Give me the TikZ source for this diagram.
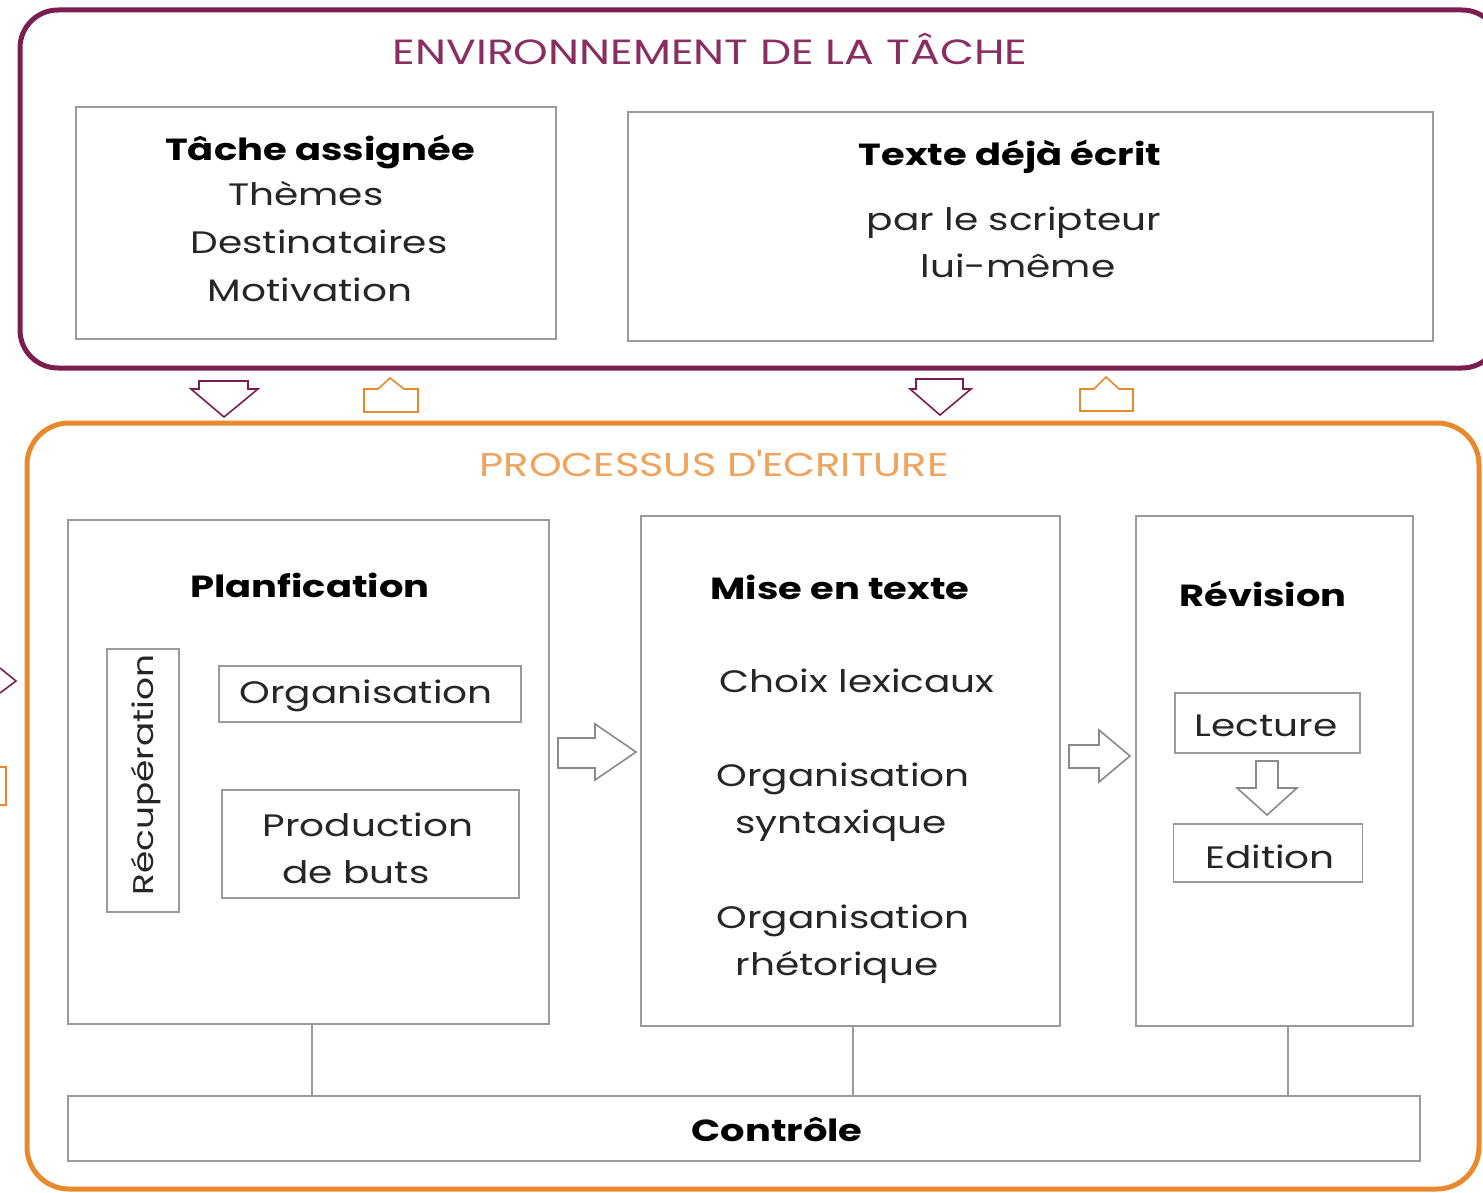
\documentclass[tikz,border=0pt]{standalone}
\usepackage{fontspec}
\setmainfont[FakeStretch=1.26]{Poppins}
\definecolor{envpurple}{HTML}{7A1E4F}
\definecolor{envtext}{HTML}{8A2E62}
\definecolor{procorange}{HTML}{E8892E}
\definecolor{proctext}{HTML}{F0A35A}
\definecolor{boxgray}{HTML}{9A9A9A}
\definecolor{txtcol}{HTML}{262626}
\definecolor{arrgray}{HTML}{8A8A8A}
\begin{document}
\begin{tikzpicture}[x=1pt,y=-1pt,
  box/.style={draw=boxgray, line width=1.8pt, inner sep=0pt},
  txt/.style={font=\fontsize{31}{36}\selectfont, text=txtcol, inner sep=0pt, anchor=base},
  ttl/.style={font=\fontsize{30.5}{36}\selectfont\bfseries, text=black, inner sep=0pt, anchor=base},
  head/.style={font=\fontsize{35}{40}\selectfont, inner sep=0pt, anchor=base},
  blockarrow/.style={draw=arrgray, line width=1.6pt, line join=miter, fill=white},
  link/.style={draw=boxgray, line width=1.8pt}
]
\useasboundingbox (0,0) rectangle (1483,1193);
\clip (0,0) rectangle (1483,1193);
\fill[white] (0,0) rectangle (1483,1193);

% outer frames
\draw[envpurple, line width=5pt, rounded corners=38pt] (20,10) rectangle (1500,368);
\draw[procorange, line width=5pt, rounded corners=42pt] (27,423) rectangle (1479,1189);

\node[head, text=envtext] (envtitle) at (710,65) {ENVIRONNEMENT DE LA TÂCHE};
\node[head, text=proctext, font=\fontsize{33}{38}\selectfont] (proctitle) at (714,476) {PROCESSUS D\textquotesingle ECRITURE};

% environment boxes
\node[box, minimum width=480pt, minimum height=232pt] (tache) at (316,223) {};
\node[ttl] (tachet) at (320,161) {Tâche assignée};
\node[txt] (themes) at (306,206) {Thèmes};
\node[txt] (dest) at (319,254) {Destinataires};
\node[txt] (motiv) at (310,301) {Motivation};

\node[box, minimum width=805pt, minimum height=229pt] (texte) at (1030.5,226.5) {};
\node[ttl] (textet) at (1010,166) {Texte déjà écrit};
\node[txt] (parle) at (1014,230) {par le scripteur};
\node[txt] (luimeme) at (1018,277) {lui-même};

% arrows between frames
\path[draw=envpurple, line width=1.6pt, fill=white]
  (199,389) -- (199,381) -- (248,381) -- (248,389) -- (258,389) -- (224,417) -- (191,389) -- cycle;
\path[draw=procorange, line width=1.6pt, fill=white]
  (364,389) -- (378,389) -- (390,378) -- (404,389) -- (418,389) -- (418,412) -- (364,412) -- cycle;
\path[draw=envpurple, line width=1.6pt, fill=white]
  (916,389) -- (916,379) -- (963,379) -- (963,389) -- (971,389) -- (940,415) -- (910,389) -- cycle;
\path[draw=procorange, line width=1.6pt, fill=white]
  (1080,389) -- (1094,389) -- (1106,377) -- (1119,389) -- (1133,389) -- (1133,411) -- (1080,411) -- cycle;

% partial shapes at the left edge
\draw[envpurple, line width=1.6pt] (0,668) -- (16,681) -- (0,693);
\draw[procorange, line width=1.6pt] (0,767) -- (6,767) -- (6,805) -- (0,805);

% Planification
\node[box, minimum width=481pt, minimum height=504pt] (plan) at (308.5,772) {};
\node[ttl] (plant) at (310,597) {Planfication};
\node[box, minimum width=72pt, minimum height=263pt] (recup) at (143,780.5) {};
\node[txt, rotate=90, font=\fontsize{28.5}{34}\selectfont] (recupt) at (153,775) {Récupération};
\node[box, minimum width=302pt, minimum height=56pt] (orga) at (370,694) {};
\node[txt] (orgat) at (366,703) {Organisation};
\node[box, minimum width=297pt, minimum height=108pt] (prod) at (370.5,844) {};
\node[txt] (prodt) at (368,836) {Production};
\node[txt] (prodt2) at (356,883) {de buts};

% Mise en texte
\node[box, minimum width=419pt, minimum height=510pt] (mise) at (850.5,771) {};
\node[ttl] (miset) at (840,599) {Mise en texte};
\node[txt] (choix) at (857,692) {Choix lexicaux};
\node[txt] (orgs) at (843,786) {Organisation};
\node[txt] (synt) at (841,833) {syntaxique};
\node[txt] (orgr) at (843,928) {Organisation};
\node[txt] (rhet) at (837,975) {rhétorique};

% Revision
\node[box, minimum width=277pt, minimum height=510pt] (revi) at (1274.5,771) {};
\node[ttl] (revit) at (1263,606) {Révision};
\node[box, minimum width=185pt, minimum height=60pt] (lect) at (1267.5,723) {};
\node[txt] (lectt) at (1266,736) {Lecture};
\node[box, minimum width=189pt, minimum height=58pt] (edit) at (1268,853) {};
\node[txt] (editt) at (1270,868) {Edition};

% block arrows
\path[blockarrow] (558,738) -- (595,738) -- (595,724) -- (636,752) -- (595,780) -- (595,768) -- (558,768) -- cycle;
\path[blockarrow] (1069,745) -- (1099,745) -- (1099,730) -- (1130,756) -- (1099,782) -- (1099,768) -- (1069,768) -- cycle;
\path[blockarrow] (1256,761) -- (1278,761) -- (1278,788) -- (1297,788) -- (1267,815) -- (1237,788) -- (1256,788) -- cycle;

% Controle
\node[box, minimum width=1352pt, minimum height=65pt] (ctrl) at (744,1128.5) {};
\node[ttl] (ctrlt) at (777,1141) {Contrôle};

% links
\draw[link] ([xshift=3.5pt]plan.south) -- ([xshift=3.5pt]plan.south |- ctrl.north);
\draw[link] ([xshift=2.5pt]mise.south) -- ([xshift=2.5pt]mise.south |- ctrl.north);
\draw[link] ([xshift=13.5pt]revi.south) -- ([xshift=13.5pt]revi.south |- ctrl.north);
\end{tikzpicture}
\end{document}
